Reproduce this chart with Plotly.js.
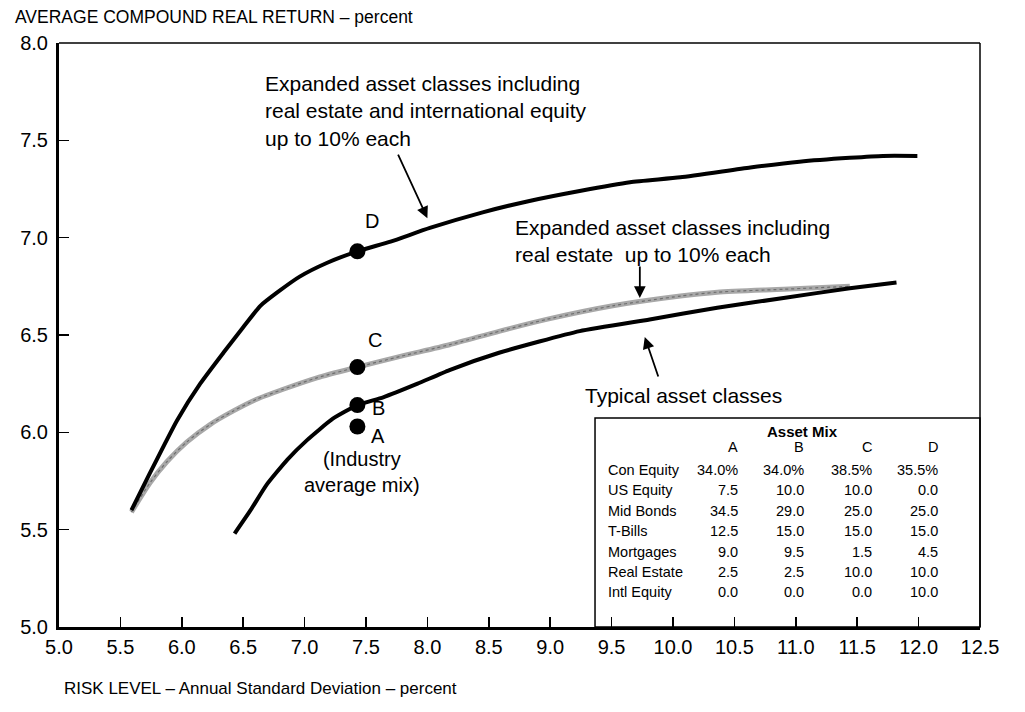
<!DOCTYPE html>
<html>
<head>
<meta charset="utf-8">
<script src="https://cdn.plot.ly/plotly-3.0.1.min.js"></script>
<style>html,body{margin:0;padding:0;background:#fff;}#chart{width:1025px;height:712px;}</style>
</head>
<body>
<div id="chart"></div>
<script>
// ---- Data ----
const riskD = [5.59, 5.74, 5.96, 6.15, 6.34, 6.50, 6.64, 6.78, 6.96, 7.18, 7.43, 7.70, 8.02, 8.45, 8.84, 9.24, 9.65, 10.06, 10.63, 11.03, 11.44, 11.71, 11.99];
const returnD = [5.60, 5.79, 6.06, 6.25, 6.41, 6.54, 6.65, 6.72, 6.80, 6.87, 6.93, 6.98, 7.05, 7.13, 7.19, 7.24, 7.285, 7.31, 7.36, 7.39, 7.41, 7.42, 7.42];

const riskC = [5.59, 5.74, 5.88, 6.04, 6.23, 6.42, 6.61, 6.82, 7.10, 7.43, 7.78, 8.18, 8.59, 8.97, 9.51, 10.06, 10.36, 10.90, 11.44];
const returnC = [5.59, 5.74, 5.85, 5.95, 6.04, 6.11, 6.17, 6.22, 6.28, 6.335, 6.39, 6.45, 6.52, 6.58, 6.65, 6.70, 6.72, 6.735, 6.75];

const riskB = [6.43, 6.56, 6.69, 6.86, 7.02, 7.23, 7.43, 7.64, 7.92, 8.18, 8.59, 9.24, 9.81, 10.36, 10.90, 11.44, 11.82];
const returnB = [5.48, 5.60, 5.73, 5.86, 5.96, 6.07, 6.14, 6.18, 6.25, 6.32, 6.41, 6.52, 6.58, 6.64, 6.69, 6.74, 6.77];

const mixNames = ['A', 'B', 'C', 'D'];
const mixRisk = [7.43, 7.43, 7.43, 7.43];
const mixReturn = [6.03, 6.14, 6.335, 6.93];

const assetRows = ['Con Equity', 'US Equity', 'Mid Bonds', 'T-Bills', 'Mortgages', 'Real Estate', 'Intl Equity'];
const mixA = ['34.0%', '7.5', '34.5', '12.5', '9.0', '2.5', '0.0'];
const mixB = ['34.0%', '10.0', '29.0', '15.0', '9.5', '2.5', '0.0'];
const mixC = ['38.5%', '10.0', '25.0', '15.0', '1.5', '10.0', '0.0'];
const mixD = ['35.5%', '0.0', '25.0', '15.0', '4.5', '10.0', '10.0'];

const xTickVals = [5.0, 5.5, 6.0, 6.5, 7.0, 7.5, 8.0, 8.5, 9.0, 9.5, 10.0, 10.5, 11.0, 11.5, 12.0, 12.5];
const yTickVals = [5.0, 5.5, 6.0, 6.5, 7.0, 7.5, 8.0];

// ---- Styling ----
const FONT = 'Liberation Sans, Arial, Helvetica, sans-serif';

const traces = [
  { x: riskC, y: returnC, mode: 'lines', line: { color: '#a8a8a8', width: 5, shape: 'spline', smoothing: 0.7 }, hoverinfo: 'skip' },
  { x: riskC, y: returnC, mode: 'lines', line: { color: '#6e6e6e', width: 1.2, dash: 'dot', shape: 'spline', smoothing: 0.7 }, hoverinfo: 'skip' },
  { x: riskD, y: returnD, mode: 'lines', line: { color: '#000', width: 4, shape: 'spline', smoothing: 0.5 } },
  { x: riskB, y: returnB, mode: 'lines', line: { color: '#000', width: 4, shape: 'spline', smoothing: 0.5 } },
  { x: mixRisk, y: mixReturn, mode: 'markers', marker: { color: '#000', size: 16 }, text: mixNames }
];

// label offsets for points (pixels)
const pointShift = { A: [21, -10], B: [21, -3], C: [18, 27], D: [15, 30] };

const annotations = [];
mixNames.forEach((n, i) => {
  annotations.push({
    x: mixRisk[i], y: mixReturn[i], xref: 'x', yref: 'y', text: n, showarrow: false,
    xshift: pointShift[n][0], yshift: pointShift[n][1],
    font: { family: FONT, size: 20, color: '#000' }
  });
});
annotations.push({
  x: mixRisk[0], y: mixReturn[0], xref: 'x', yref: 'y', text: '(Industry<br>average mix)', showarrow: false,
  xshift: 5, yshift: -46, font: { family: FONT, size: 20, color: '#000' }
});

const labelFont = { family: FONT, size: 21, color: '#000' };
annotations.push({
  x: 6.66, y: 7.86, xref: 'x', yref: 'y', xanchor: 'left', yanchor: 'top', align: 'left', showarrow: false,
  text: 'Expanded asset classes including<br>real estate and international equity<br>up to 10% each', font: labelFont
});
annotations.push({
  x: 8.70, y: 7.12, xref: 'x', yref: 'y', xanchor: 'left', yanchor: 'top', align: 'left', showarrow: false,
  text: 'Expanded asset classes including<br>real estate  up to 10% each', font: labelFont
});
annotations.push({
  x: 9.27, y: 6.19, xref: 'x', yref: 'y', xanchor: 'left', yanchor: 'middle', align: 'left', showarrow: false,
  text: 'Typical asset classes', font: labelFont
});
// arrows
const arrowStyle = { showarrow: true, arrowhead: 2, arrowsize: 1.3, arrowwidth: 1.8, arrowcolor: '#000', text: '', xref: 'x', yref: 'y' };
annotations.push(Object.assign({ x: 8.00, y: 7.10, ax: -30, ay: -65 }, arrowStyle));
annotations.push(Object.assign({ x: 9.73, y: 6.69, ax: 0, ay: -33 }, arrowStyle));
annotations.push(Object.assign({ x: 9.77, y: 6.49, ax: 14, ay: 41 }, arrowStyle));

// x-axis title
annotations.push({
  xref: 'paper', yref: 'paper', x: 0.003, y: -0.105, xanchor: 'left', yanchor: 'middle', showarrow: false,
  text: 'RISK LEVEL – Annual Standard Deviation – percent', font: { family: FONT, size: 17, color: '#000' }
});

// asset mix table
const tableFont = { family: FONT, size: 14.5, color: '#000' };
const colX = [0.739, 0.811, 0.885, 0.957];
annotations.push({ xref: 'paper', yref: 'paper', x: 0.848, y: 0.335, text: '<b>Asset Mix</b>', showarrow: false, font: { family: FONT, size: 15, color: '#000' } });
mixNames.forEach((n, j) => {
  annotations.push({ xref: 'paper', yref: 'paper', x: colX[j], y: 0.291, text: n, showarrow: false, font: tableFont });
});
const cols = [mixA, mixB, mixC, mixD];
assetRows.forEach((r, i) => {
  const yy = (147 - 20.4 * i) / 584;
  annotations.push({ xref: 'paper', yref: 'paper', x: 0.594, y: yy, xanchor: 'left', text: r, showarrow: false, font: tableFont });
  cols.forEach((c, j) => {
    annotations.push({ xref: 'paper', yref: 'paper', x: colX[j], y: yy, text: c[i], showarrow: false, font: tableFont });
  });
});

const shapes = [
  { type: 'line', xref: 'paper', yref: 'paper', x0: 0, x1: 1, y0: 1, y1: 1, line: { color: '#000', width: 1.5 } },
  { type: 'line', xref: 'paper', yref: 'paper', x0: 1, x1: 1, y0: 0, y1: 1, line: { color: '#000', width: 1.5 } },
  { type: 'rect', xref: 'paper', yref: 'paper', x0: 0.582, x1: 1, y0: 0, y1: 0.358, line: { color: '#000', width: 1.5 } }
];

const axisCommon = {
  showgrid: false, zeroline: false, showline: true, linecolor: '#000', linewidth: 3,
  ticks: 'inside', ticklen: 10, tickwidth: 1.5, tickcolor: '#000', tickformat: '.1f',
  tickfont: { family: FONT, size: 20, color: '#000' }, fixedrange: true
};

const layout = {
  width: 1025, height: 712,
  margin: { l: 59, r: 45, t: 43, b: 85 },
  paper_bgcolor: '#fff', plot_bgcolor: '#fff',
  showlegend: false,
  title: {
    text: 'AVERAGE COMPOUND REAL RETURN – percent',
    x: 15 / 1025, xanchor: 'left', xref: 'container',
    y: 1 - 17 / 712, yanchor: 'middle', yref: 'container',
    font: { family: FONT, size: 17.5, color: '#000' }
  },
  xaxis: Object.assign({}, axisCommon, { range: [5, 12.5], tickmode: 'array', tickvals: xTickVals }),
  yaxis: Object.assign({}, axisCommon, { range: [5, 8], tickmode: 'array', tickvals: yTickVals, ticklabelstandoff: 4 }),
  annotations: annotations,
  shapes: shapes
};

Plotly.newPlot('chart', traces, layout, { displayModeBar: false, staticPlot: true });
</script>
</body>
</html>
